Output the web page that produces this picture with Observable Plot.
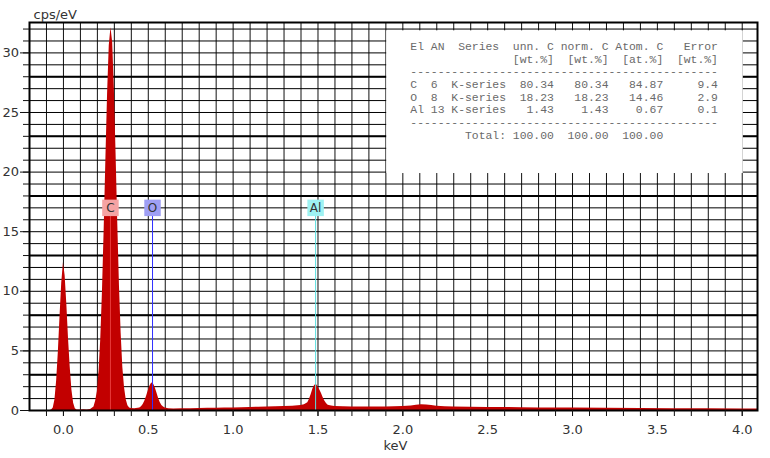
<!DOCTYPE html>
<html>
<head>
<meta charset="utf-8">
<script src="https://cdn.jsdelivr.net/npm/d3@7"></script>
<script src="https://cdn.jsdelivr.net/npm/@observablehq/plot@0.6"></script>
<style>
  html, body { margin: 0; padding: 0; background: white; }
  #chart { width: 770px; height: 458px; }
</style>
</head>
<body>
<div id="chart"></div>
<script>
// ---- spectrum (keV, cps/eV) ----
const energy = [-0.20,-0.08,-0.07,-0.06,-0.05,-0.04,-0.03,-0.02,-0.01,0.00,0.01,0.02,0.03,0.04,0.05,0.06,0.07,0.08,0.10,0.12,0.14,0.16,
  0.18,0.19,0.20,0.21,0.22,0.23,0.24,0.25,0.26,0.27,0.28,0.29,0.30,0.31,0.32,0.33,0.34,0.35,0.36,0.37,0.38,0.39,
  0.40,0.42,0.44,0.45,0.46,0.47,0.48,0.49,0.50,0.51,0.52,0.53,0.54,0.55,0.56,0.57,0.58,0.59,0.60,0.62,0.65,
  0.70,0.75,0.80,0.85,0.90,0.95,1.00,1.05,1.10,1.15,1.20,1.25,1.30,1.35,1.40,1.42,1.44,1.45,1.46,1.47,1.48,1.49,
  1.50,1.51,1.52,1.53,1.54,1.55,1.56,1.58,1.60,1.65,1.70,1.75,1.80,1.85,1.90,1.95,2.00,2.05,2.08,2.11,2.14,2.17,
  2.20,2.25,2.30,2.40,2.50,2.60,2.70,2.80,2.90,3.00,3.20,3.40,3.60,3.80,4.00,4.09];
const cps = [0,0,0.05,0.2,0.9,2.5,4.9,7.9,10.7,12.4,11.3,8.9,6.0,3.6,1.7,0.6,0.15,0.05,0.04,0.06,0.05,0.08,
  0.3,0.8,1.6,3.3,6.0,10.0,15.2,21.0,26.5,30.6,32.1,30.9,27.0,21.6,15.8,10.5,6.5,3.6,1.9,0.9,0.4,0.2,
  0.16,0.15,0.18,0.22,0.32,0.5,0.8,1.2,1.65,2.05,2.3,2.25,1.95,1.5,1.05,0.68,0.42,0.3,0.22,0.15,0.13,
  0.14,0.15,0.16,0.18,0.19,0.2,0.22,0.24,0.26,0.28,0.3,0.32,0.34,0.36,0.42,0.48,0.65,0.95,1.35,1.8,2.1,2.2,
  2.0,1.75,1.45,1.1,0.8,0.58,0.45,0.38,0.34,0.32,0.3,0.3,0.29,0.3,0.3,0.31,0.33,0.38,0.44,0.48,0.47,0.42,
  0.36,0.32,0.3,0.28,0.26,0.25,0.24,0.22,0.21,0.2,0.19,0.17,0.15,0.14,0.13,0.12];

// ---- element lines ----
const lineElements = ["C", "O", "Al"];
const lineEnergies = [0.277, 0.525, 1.486];
const lineBoxColors = ["#f5a3a3", "#9f9ff5", "#9ef2f2"];
const lineColors = ["#e83a3a", "#3030ff", "#5adede"];

// ---- quantification table ----
const tblEl = ["C", "O", "Al"];
const tblAN = [6, 8, 13];
const tblSeries = ["K-series", "K-series", "K-series"];
const tblUnn = [80.34, 18.23, 1.43];
const tblNorm = [80.34, 18.23, 1.43];
const tblAtom = [84.87, 14.46, 0.67];
const tblErr = [9.4, 2.9, 0.1];
const tblTotals = [100.00, 100.00, 100.00];

// ---- ticks ----
const xTickLabels = [0.0, 0.5, 1.0, 1.5, 2.0, 2.5, 3.0, 3.5, 4.0];
const yTickLabels = [0, 5, 10, 15, 20, 25, 30];
const yBoldGrid = [3, 8, 13, 18, 23, 28];
const xMinor = d3.range(-1, 41).map(i => i / 10);
const yMinor = d3.range(0, 33);

const spectrum = energy.map((e, i) => ({e, c: cps[i]}));
const lines = lineElements.map((el, i) => ({el, e: lineEnergies[i], box: lineBoxColors[i], color: lineColors[i]}));

const sp = s => s.replace(/ /g, "\u00A0");
const dash = "-".repeat(45);
const rows = [
  "El AN  Series " + "unn. C".padStart(7) + "norm. C".padStart(8) + "Atom. C".padStart(8) + "Error".padStart(8),
  " ".repeat(14) + "[wt.%]".padStart(7) + "[wt.%]".padStart(8) + "[at.%]".padStart(8) + "[wt.%]".padStart(8),
  dash,
  ...tblEl.map((el, i) => el.padEnd(3) + String(tblAN[i]).padEnd(3) + tblSeries[i] +
    tblUnn[i].toFixed(2).padStart(7) + tblNorm[i].toFixed(2).padStart(8) +
    tblAtom[i].toFixed(2).padStart(8) + tblErr[i].toFixed(1).padStart(8)),
  dash,
  " ".repeat(8) + "Total:" + tblTotals[0].toFixed(2).padStart(7) + tblTotals[1].toFixed(2).padStart(8) + tblTotals[2].toFixed(2).padStart(8)
];
const tableText = sp(rows.join("\n"));

const labelY = 17;

const chart = Plot.plot({
  width: 770,
  height: 458,
  marginLeft: 29,
  marginRight: 13,
  marginTop: 22,
  marginBottom: 48,
  x: {domain: [-0.2, 4.09]},
  y: {domain: [0, 32.55]},
  style: {fontFamily: "DejaVu Sans", fontSize: "13px", color: "#333", background: "white"},
  marks: [
    Plot.gridX(xMinor, {stroke: "#111", strokeOpacity: 1, strokeWidth: 1}),
    Plot.gridY(yMinor, {stroke: "#000", strokeOpacity: 1, strokeWidth: 1}),
    Plot.gridY(yBoldGrid, {stroke: "#000", strokeOpacity: 1, strokeWidth: 2}),
    Plot.rect([0], {x1: 1.905, x2: 4.006, y1: 19.88, y2: 31.85, fill: "white"}),
    Plot.areaY(spectrum, {x: "e", y: "c", fill: "#c20000", curve: "linear"}),
    Plot.ruleX(lines, {x: "e", y1: 0, y2: labelY, stroke: "color", strokeWidth: 1}),
    Plot.dot(lines, {x: "e", y: () => labelY, symbol: "square", r: 9.3, fill: "box", stroke: "none"}),
    Plot.text(lines, {x: "e", y: () => labelY, text: "el", fill: "#333", fontSize: 12}),
    Plot.text([tableText], {x: 2.044, y: 31.0, text: d => d, textAnchor: "start", lineAnchor: "top",
      lineHeight: 1.111, fontFamily: "Liberation Mono", fontSize: 11.4, fill: "#6a6a6a"}),
    Plot.frame({stroke: "black", strokeWidth: 2}),
    Plot.axisX(xMinor.filter(v => v >= -0.2), {tickSize: 6, tickFormat: () => "", stroke: "#111", label: null}),
    Plot.axisX(xTickLabels, {tickSize: 6, tickPadding: 8, tickFormat: d3.format(".1f"), stroke: "#111", fill: "#333", fontSize: 13, label: null}),
    Plot.axisY(yMinor, {tickSize: 6, tickFormat: () => "", stroke: "#111", label: null}),
    Plot.axisY(yTickLabels, {tickSize: 9, tickPadding: 1.5, stroke: "#111", fill: "#333", fontSize: 13, label: null}),
    Plot.text(["cps/eV"], {frameAnchor: "top-left", text: d => d, dx: 4, dy: -7.2, textAnchor: "start", lineAnchor: "middle", fontSize: 13, fill: "#333"}),
    Plot.text(["keV"], {frameAnchor: "bottom", text: d => d, dx: 2, dy: 35, lineAnchor: "middle", fontSize: 13, fill: "#333"})
  ]
});
document.getElementById("chart").appendChild(chart);
</script>
</body>
</html>
